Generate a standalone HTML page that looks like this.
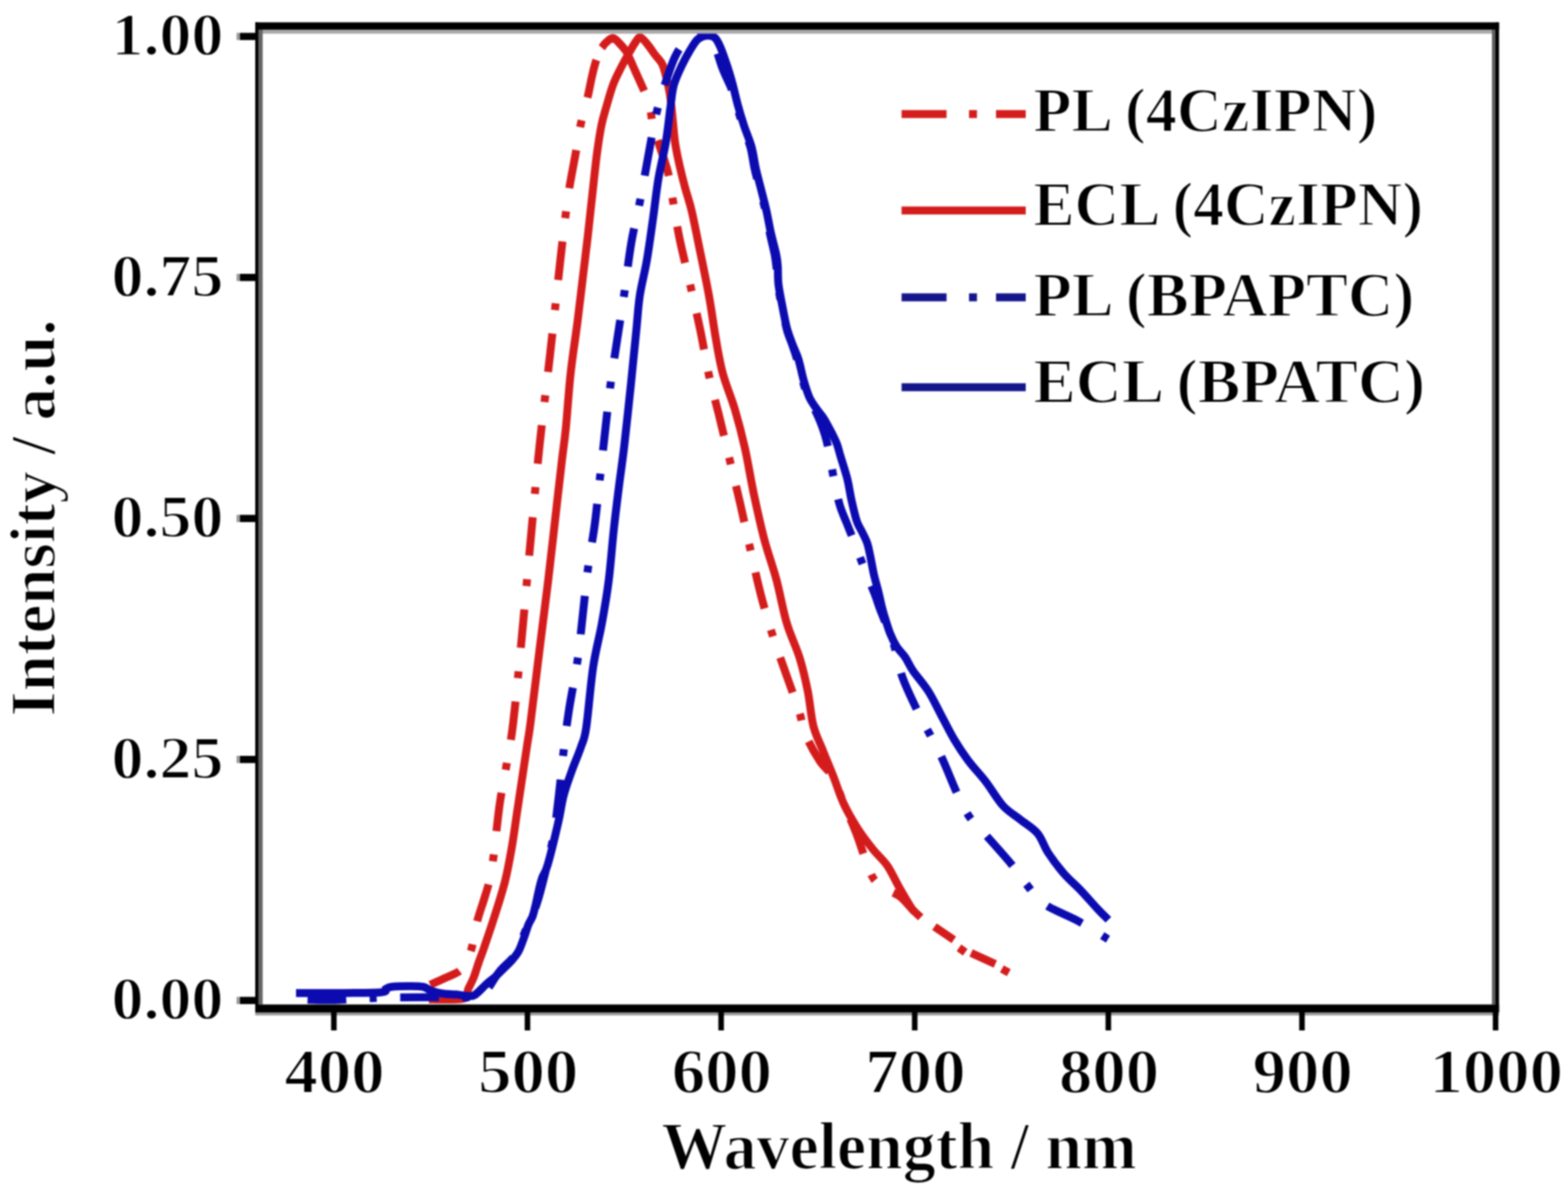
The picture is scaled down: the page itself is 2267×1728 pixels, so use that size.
<!DOCTYPE html><html><head><meta charset="utf-8"><title>Intensity vs Wavelength</title>
<style>html,body{margin:0;padding:0;background:#fff;width:2267px;height:1728px;overflow:hidden}svg{display:block;filter:blur(1.2px)}text{font-family:"Liberation Serif","Times New Roman",serif;font-weight:bold;fill:#000;stroke:#fff;stroke-width:2px}</style></head><body>
<svg width="2267" height="1728" viewBox="0 0 2267 1728">
<rect x="0" y="0" width="2267" height="1728" fill="#fff"/>
<g fill="none" stroke-linejoin="round" stroke-width="11.5">
<path d="M622.0,1424.0 C625.3,1422.5 634.9,1418.2 641.7,1415.0 C648.5,1411.8 657.8,1408.7 663.0,1405.0 C668.2,1401.3 669.9,1398.5 673.0,1393.0 C676.1,1387.5 678.9,1382.2 681.7,1372.0 C684.5,1361.8 687.0,1344.0 690.0,1332.0 C693.0,1320.0 696.9,1310.3 700.0,1300.0 C703.1,1289.7 706.2,1280.8 708.5,1270.0 C710.8,1259.2 711.7,1252.9 714.0,1235.0 C716.3,1217.1 719.4,1184.2 722.5,1162.5 C725.6,1140.8 729.2,1124.6 732.5,1105.0 C735.8,1085.4 738.2,1076.7 742.0,1045.0 C745.8,1013.3 750.8,959.6 755.0,915.0 C759.2,870.4 763.3,822.5 767.5,777.5 C771.7,732.5 775.4,688.8 780.0,645.0 C784.6,601.2 790.0,559.6 795.0,515.0 C800.0,470.4 806.2,411.8 810.0,377.5 C813.8,343.2 815.8,326.5 818.0,309.0 C820.2,291.5 820.5,287.7 823.0,272.5 C825.5,257.3 830.2,233.4 833.0,217.7 C835.8,201.9 837.2,190.9 840.0,178.0 C842.8,165.1 847.0,151.3 849.7,140.0 C852.4,128.7 853.8,119.2 856.0,110.0 C858.2,100.8 859.7,92.9 863.0,84.8 C866.3,76.7 872.2,66.6 876.0,61.6 C879.8,56.6 884.3,56.1 886.0,55.0" stroke="#d41c1c" stroke-dasharray="55.9 33.9 10.0 33.9" stroke-dashoffset="9.2"/>
<path d="M886.0,55.0 C887.5,56.2 891.9,59.0 895.0,62.0 C898.1,65.0 900.7,66.4 904.5,73.0 C908.3,79.6 912.3,88.9 917.8,101.4 C923.3,113.9 933.3,134.4 937.7,148.0 C942.1,161.6 941.4,171.6 944.3,182.8 C947.2,194.0 951.4,203.8 955.0,215.0 C958.6,226.2 963.1,237.9 966.0,250.0 C968.9,262.1 969.8,271.7 972.5,287.5 C975.2,303.3 978.3,324.6 982.5,345.0 C986.7,365.4 992.5,387.9 997.5,410.0 C1002.5,432.1 1007.9,455.4 1012.5,477.5 C1017.1,499.6 1020.4,521.7 1025.0,542.5 C1029.6,563.3 1035.0,582.1 1040.0,602.5 C1045.0,622.9 1050.0,644.2 1055.0,665.0 C1060.0,685.8 1065.0,705.8 1070.0,727.5 C1075.0,749.2 1080.0,772.9 1085.0,795.0 C1090.0,817.1 1094.6,839.2 1100.0,860.0 C1105.4,880.8 1111.2,900.4 1117.5,920.0 C1123.8,939.6 1131.2,959.6 1137.5,977.5 C1143.8,995.4 1150.4,1013.2 1155.0,1027.5 C1159.6,1041.8 1160.0,1050.9 1165.0,1063.0 C1170.0,1075.1 1178.3,1089.7 1185.0,1100.0 C1191.7,1110.3 1199.2,1114.6 1205.0,1125.0 C1210.8,1135.4 1214.5,1149.2 1220.0,1162.5 C1225.5,1175.8 1232.7,1191.2 1238.0,1205.0 C1243.3,1218.8 1247.7,1233.8 1252.0,1245.0 C1256.3,1256.2 1258.7,1265.0 1264.0,1272.0 C1269.3,1279.0 1277.7,1282.8 1284.0,1287.0 C1290.3,1291.2 1296.0,1292.2 1302.0,1297.0 C1308.0,1301.8 1314.5,1310.5 1320.0,1316.0 C1325.5,1321.5 1332.5,1327.7 1335.0,1330.0" stroke="#d41c1c" stroke-dasharray="53.6 32.3 10.0 32.3" stroke-dashoffset="91.6"/>
<path d="M870.0,69.0 C871.0,67.8 873.3,63.9 876.0,61.6 C878.7,59.3 882.8,54.9 886.0,55.0 C889.2,55.1 891.9,59.0 895.0,62.0 C898.1,65.0 902.2,70.0 904.5,73.0 C906.8,76.0 908.2,78.8 909.0,80.0" stroke="#d41c1c"/>
<path d="M1351,1340 L1379,1359 M1386.5,1370.5 L1395.5,1377 M1404,1378 L1439,1394 M1448.5,1401 L1458.5,1406.5" stroke="#d41c1c"/>
<path d="M620.0,1445.0 C628.3,1444.8 660.5,1446.5 670.0,1444.0 C679.5,1441.5 674.5,1435.2 677.0,1430.0 C679.5,1424.8 682.5,1419.3 685.0,1413.0 C687.5,1406.7 689.5,1399.2 692.0,1392.0 C694.5,1384.8 696.2,1381.2 700.0,1370.0 C703.8,1358.8 710.0,1340.8 715.0,1325.0 C720.0,1309.2 725.8,1291.7 730.0,1275.0 C734.2,1258.3 737.1,1241.7 740.0,1225.0 C742.9,1208.3 745.0,1191.7 747.5,1175.0 C750.0,1158.3 752.5,1141.7 755.0,1125.0 C757.5,1108.3 760.5,1088.3 762.5,1075.0 C764.5,1061.7 764.1,1067.5 767.0,1045.0 C769.9,1022.5 775.8,974.2 780.0,940.0 C784.2,905.8 788.8,871.2 792.5,840.0 C796.2,808.8 799.2,781.7 802.5,752.5 C805.8,723.3 809.9,687.1 812.5,665.0 C815.1,642.9 815.9,640.8 818.0,620.0 C820.1,599.2 822.2,565.8 825.0,540.0 C827.8,514.2 832.1,487.9 835.0,465.0 C837.9,442.1 840.0,423.3 842.5,402.5 C845.0,381.7 847.8,359.6 850.0,340.0 C852.2,320.4 853.8,304.6 856.0,285.0 C858.2,265.4 860.7,240.0 863.0,222.7 C865.3,205.4 867.4,192.1 869.6,181.0 C871.8,169.9 873.4,165.7 876.2,156.0 C879.0,146.3 882.6,132.7 886.2,123.0 C889.8,113.3 893.9,105.8 897.8,98.0 C901.7,90.2 905.9,82.8 909.5,76.5 C913.1,70.2 916.6,63.8 919.4,60.0 C922.1,56.2 923.2,53.3 926.0,54.0 C928.8,54.7 932.4,59.7 936.0,64.0 C939.6,68.3 944.0,75.1 947.6,79.9 C951.2,84.7 954.9,87.2 957.6,93.0 C960.3,98.8 962.1,106.9 964.0,114.7 C965.9,122.5 967.6,129.9 969.0,139.6 C970.4,149.3 971.4,161.7 972.6,172.8 C973.8,183.9 974.4,194.9 976.0,206.0 C977.6,217.1 980.0,228.2 982.5,239.3 C985.0,250.4 987.9,261.6 990.8,272.5 C993.7,283.4 996.4,289.6 1000.0,305.0 C1003.6,320.4 1008.3,344.6 1012.5,365.0 C1016.7,385.4 1021.2,406.7 1025.0,427.5 C1028.8,448.3 1031.7,471.2 1035.0,490.0 C1038.3,508.8 1040.4,523.0 1045.0,540.0 C1049.6,557.0 1057.2,574.0 1062.5,592.0 C1067.8,610.0 1072.4,627.5 1077.0,648.0 C1081.6,668.5 1085.3,693.0 1090.0,715.0 C1094.7,737.0 1099.6,759.5 1105.0,780.0 C1110.4,800.5 1117.1,817.8 1122.5,838.0 C1127.9,858.2 1131.9,882.2 1137.5,901.0 C1143.1,919.8 1150.9,934.5 1156.0,951.0 C1161.1,967.5 1164.7,983.5 1168.0,1000.0 C1171.3,1016.5 1172.3,1035.7 1176.0,1050.0 C1179.7,1064.3 1185.2,1073.8 1190.0,1086.0 C1194.8,1098.2 1200.0,1110.2 1205.0,1123.0 C1210.0,1135.8 1214.2,1150.0 1220.0,1162.5 C1225.8,1175.0 1233.0,1187.1 1240.0,1198.0 C1247.0,1208.9 1254.8,1219.0 1262.0,1228.0 C1269.2,1237.0 1276.7,1242.8 1283.0,1252.0 C1289.3,1261.2 1294.2,1272.9 1300.0,1283.0 C1305.8,1293.1 1313.8,1306.7 1317.5,1312.5 C1321.2,1318.3 1321.2,1317.1 1322.0,1318.0" stroke="#d41c1c"/>
<path d="M428.0,1445.0 C436.7,1445.2 460.5,1446.3 480.0,1446.0 C499.5,1445.7 521.7,1443.7 545.0,1443.0 C568.3,1442.3 597.5,1442.2 620.0,1442.0 C642.5,1441.8 666.7,1443.0 680.0,1442.0 C693.3,1441.0 693.0,1442.2 700.0,1436.0 C707.0,1429.8 714.5,1414.3 722.0,1405.0 C729.5,1395.7 738.7,1390.0 745.0,1380.0 C751.3,1370.0 755.0,1356.7 760.0,1345.0 C765.0,1333.3 770.8,1321.7 775.0,1310.0 C779.2,1298.3 780.8,1291.7 785.0,1275.0 C789.2,1258.3 796.2,1230.8 800.0,1210.0 C803.8,1189.2 805.5,1170.8 808.0,1150.0 C810.5,1129.2 812.6,1105.4 815.0,1085.0 C817.4,1064.6 819.2,1049.2 822.5,1027.5 C825.8,1005.8 831.7,977.9 835.0,955.0 C838.3,932.1 840.0,912.1 842.5,890.0 C845.0,867.9 847.1,844.6 850.0,822.5 C852.9,800.4 857.1,779.6 860.0,757.5 C862.9,735.4 865.4,708.8 867.5,690.0 C869.6,671.2 870.0,667.1 872.5,645.0 C875.0,622.9 879.2,583.3 882.5,557.5 C885.8,531.7 889.2,512.1 892.5,490.0 C895.8,467.9 899.2,447.9 902.5,425.0 C905.8,402.1 908.8,374.6 912.5,352.5 C916.2,330.4 920.9,313.4 925.0,292.5 C929.1,271.6 933.0,248.6 937.0,227.0 C941.0,205.4 945.1,180.8 949.3,163.0 C953.5,145.2 957.5,133.5 962.0,120.0 C966.5,106.5 971.3,91.7 976.0,82.0 C980.7,72.3 984.5,66.7 990.0,62.0 C995.5,57.3 1003.7,55.7 1009.0,54.0 C1014.3,52.3 1018.2,50.7 1022.0,52.0 C1025.8,53.3 1028.2,54.0 1032.0,62.0 C1035.8,70.0 1040.8,89.2 1045.0,100.0 C1049.2,110.8 1053.7,118.3 1057.0,127.0 C1060.3,135.7 1062.2,142.8 1065.0,152.0 C1067.8,161.2 1070.7,171.8 1074.0,182.0 C1077.3,192.2 1082.2,202.7 1085.0,213.0 C1087.8,223.3 1088.7,233.7 1091.0,244.0 C1093.3,254.3 1096.3,264.7 1099.0,275.0 C1101.7,285.3 1104.7,295.7 1107.0,306.0 C1109.3,316.3 1110.8,326.7 1113.0,337.0 C1115.2,347.3 1118.3,359.2 1120.0,368.0 C1121.7,376.8 1122.0,381.3 1123.0,390.0 C1124.0,398.7 1124.5,410.0 1126.0,420.0 C1127.5,430.0 1130.0,440.3 1132.0,450.0 C1134.0,459.7 1135.7,469.7 1138.0,478.0 C1140.3,486.3 1143.3,492.2 1146.0,500.0 C1148.7,507.8 1151.5,516.3 1154.0,525.0 C1156.5,533.7 1158.5,543.5 1161.0,552.0 C1163.5,560.5 1166.2,569.3 1169.0,576.0 C1171.8,582.7 1175.2,586.3 1178.0,592.0 C1180.8,597.7 1183.5,603.7 1186.0,610.0 C1188.5,616.3 1190.8,622.5 1193.0,630.0 C1195.2,637.5 1196.9,644.7 1199.0,655.0 C1201.1,665.3 1203.0,679.5 1205.5,692.0 C1208.0,704.5 1210.9,719.3 1214.0,730.0 C1217.1,740.7 1220.7,747.5 1224.0,756.0 C1227.3,764.5 1230.2,771.3 1234.0,781.0 C1237.8,790.7 1242.8,804.5 1246.5,814.0 C1250.2,823.5 1252.9,830.3 1256.0,838.0 C1259.1,845.7 1262.3,853.0 1265.0,860.0 C1267.7,867.0 1269.5,873.3 1272.0,880.0 C1274.5,886.7 1277.0,892.5 1280.0,900.0 C1283.0,907.5 1287.3,917.5 1290.0,925.0 C1292.7,932.5 1293.5,935.8 1296.0,945.0 C1298.5,954.2 1299.8,965.8 1305.0,980.0 C1310.2,994.2 1320.8,1016.2 1327.5,1030.0 C1334.2,1043.8 1339.2,1051.8 1345.0,1063.0 C1350.8,1074.2 1355.8,1083.0 1362.5,1097.5 C1369.2,1112.0 1378.3,1135.8 1385.0,1150.0 C1391.7,1164.2 1395.4,1172.5 1402.5,1182.5 C1409.6,1192.5 1417.5,1198.8 1427.5,1210.0 C1437.5,1221.2 1452.9,1238.3 1462.5,1250.0 C1472.1,1261.7 1477.1,1270.4 1485.0,1280.0 C1492.9,1289.6 1497.5,1298.8 1510.0,1307.5 C1522.5,1316.2 1544.7,1324.1 1560.0,1332.5 C1575.3,1340.9 1595.0,1353.8 1602.0,1358.0" stroke="#0b0bb0" stroke-dasharray="56.0 34.0 10.0 34.0" stroke-dashoffset="117.3"/>
<path d="M428.0,1436.0 C436.7,1436.0 459.7,1436.2 480.0,1436.0 C500.3,1435.8 537.0,1436.0 550.0,1435.0 C563.0,1434.0 555.3,1431.3 558.0,1430.0 C560.7,1428.7 560.7,1427.7 566.0,1427.0 C571.3,1426.3 582.3,1426.0 590.0,1426.0 C597.7,1426.0 606.3,1425.8 612.0,1427.0 C617.7,1428.2 619.0,1431.3 624.0,1433.0 C629.0,1434.7 636.0,1436.2 642.0,1437.0 C648.0,1437.8 654.7,1437.5 660.0,1438.0 C665.3,1438.5 669.7,1439.8 674.0,1440.0 C678.3,1440.2 681.0,1441.9 686.0,1439.0 C691.0,1436.1 698.8,1426.9 703.8,1422.5 C708.8,1418.1 711.8,1416.2 716.0,1412.5 C720.2,1408.8 724.6,1404.2 728.8,1400.0 C732.9,1395.8 737.5,1391.7 741.0,1387.5 C744.5,1383.3 747.2,1380.2 750.0,1375.0 C752.8,1369.8 755.2,1362.2 757.5,1356.0 C759.8,1349.8 761.7,1342.7 763.8,1337.5 C765.8,1332.3 768.1,1330.2 770.0,1325.0 C771.9,1319.8 773.5,1312.2 775.0,1306.0 C776.5,1299.8 777.5,1293.7 779.0,1287.5 C780.5,1281.3 781.8,1275.2 784.0,1269.0 C786.2,1262.8 788.1,1263.6 792.0,1250.0 C795.9,1236.4 803.7,1204.2 807.5,1187.5 C811.3,1170.8 811.7,1162.5 815.0,1150.0 C818.3,1137.5 823.3,1124.2 827.5,1112.5 C831.7,1100.8 836.7,1090.0 840.0,1080.0 C843.3,1070.0 844.6,1071.7 847.5,1052.5 C850.4,1033.3 853.8,990.0 857.5,965.0 C861.2,940.0 866.2,923.3 870.0,902.5 C873.8,881.7 877.1,862.9 880.0,840.0 C882.9,817.1 885.0,787.9 887.5,765.0 C890.0,742.1 892.5,722.5 895.0,702.5 C897.5,682.5 899.6,670.0 902.5,645.0 C905.4,620.0 909.6,580.4 912.5,552.5 C915.4,524.6 917.9,498.3 920.0,477.5 C922.1,456.7 922.5,444.2 925.0,427.5 C927.5,410.8 931.8,395.9 935.0,377.5 C938.2,359.1 941.2,336.9 944.0,317.0 C946.8,297.1 948.9,276.5 952.0,258.0 C955.1,239.5 959.7,223.0 962.6,206.0 C965.5,189.0 967.3,169.8 969.2,156.0 C971.1,142.2 971.4,133.2 974.2,123.0 C977.0,112.8 981.9,103.1 985.8,94.8 C989.7,86.5 993.6,79.4 997.5,73.0 C1001.4,66.6 1004.9,60.2 1009.0,56.6 C1013.1,53.0 1018.2,51.9 1022.4,51.6 C1026.6,51.3 1030.7,51.9 1034.0,55.0 C1037.3,58.1 1039.2,62.8 1042.3,70.0 C1045.3,77.2 1049.5,89.7 1052.3,98.0 C1055.0,106.3 1056.4,111.2 1058.8,120.0 C1061.2,128.8 1063.7,140.7 1066.5,151.0 C1069.3,161.3 1072.4,171.7 1075.8,182.0 C1079.2,192.3 1083.9,202.5 1086.7,212.8 C1089.5,223.1 1090.5,233.5 1092.8,243.8 C1095.1,254.1 1098.0,264.4 1100.6,274.7 C1103.2,285.0 1106.0,295.4 1108.3,305.7 C1110.6,316.0 1112.2,326.3 1114.5,336.6 C1116.8,346.9 1120.5,359.5 1122.2,367.6 C1123.9,375.7 1124.0,377.8 1124.5,385.0 C1125.0,392.2 1124.4,401.5 1125.5,411.0 C1126.6,420.5 1129.0,431.7 1131.0,442.0 C1133.0,452.3 1135.0,463.8 1137.3,472.8 C1139.6,481.8 1142.2,488.2 1145.0,496.0 C1147.8,503.8 1151.5,510.3 1154.3,519.3 C1157.1,528.3 1159.4,541.2 1162.0,550.2 C1164.6,559.2 1166.9,566.9 1169.7,573.4 C1172.5,579.9 1175.5,583.7 1179.0,589.0 C1182.5,594.3 1187.0,598.7 1191.0,605.0 C1195.0,611.3 1199.8,620.8 1203.0,627.0 C1206.2,633.2 1207.9,636.3 1210.0,642.0 C1212.1,647.7 1213.1,652.7 1215.6,661.0 C1218.1,669.3 1222.3,681.6 1224.9,691.9 C1227.5,702.2 1228.7,712.5 1231.0,722.8 C1233.3,733.1 1236.2,746.0 1238.8,753.8 C1241.4,761.5 1244.0,763.9 1246.5,769.3 C1249.0,774.7 1251.9,779.5 1254.0,786.0 C1256.1,792.5 1257.4,800.5 1259.0,808.0 C1260.6,815.5 1261.8,823.5 1263.6,831.2 C1265.4,838.9 1267.8,846.7 1269.7,854.4 C1271.6,862.1 1273.4,871.1 1275.0,877.6 C1276.6,884.1 1277.4,886.7 1279.4,893.2 C1281.4,899.7 1284.3,909.4 1287.1,916.4 C1289.9,923.4 1292.8,929.3 1296.4,935.0 C1300.0,940.7 1304.9,944.7 1308.8,950.5 C1312.7,956.3 1314.4,961.8 1320.0,970.0 C1325.6,978.2 1335.4,988.8 1342.5,1000.0 C1349.6,1011.2 1356.2,1025.8 1362.5,1037.5 C1368.8,1049.2 1373.8,1059.6 1380.0,1070.0 C1386.2,1080.4 1392.5,1090.0 1400.0,1100.0 C1407.5,1110.0 1416.7,1119.2 1425.0,1130.0 C1433.3,1140.8 1441.7,1155.8 1450.0,1165.0 C1458.3,1174.2 1466.7,1178.3 1475.0,1185.0 C1483.3,1191.7 1493.3,1197.1 1500.0,1205.0 C1506.7,1212.9 1508.8,1222.9 1515.0,1232.5 C1521.2,1242.1 1529.6,1253.3 1537.5,1262.5 C1545.4,1271.7 1554.2,1278.8 1562.5,1287.5 C1570.8,1296.2 1580.8,1307.9 1587.5,1315.0 C1594.2,1322.1 1600.0,1327.5 1602.5,1330.0" stroke="#0b0bb0"/>
</g>
<g>
<rect x="374" y="42.9" width="1783" height="5.8" fill="#aaa"/>
<rect x="373.8" y="42.9" width="6" height="1409.6" fill="#666"/>
<rect x="2157" y="42.9" width="5" height="1409.6" fill="#606060"/>
<rect x="369" y="1463" width="1798.3" height="5.3" fill="#999"/>
<rect x="369" y="32.3" width="1798.3" height="10.6" fill="#000"/>
<rect x="369" y="32.3" width="4.8" height="1430.7" fill="#000"/>
<rect x="2162" y="32.3" width="5.3" height="1430.7" fill="#000"/>
<rect x="369" y="1452.5" width="1798.3" height="11.5" fill="#000"/>
<rect x="342" y="1441.5" width="5" height="10.4" fill="#9a9a9a"/>
<rect x="347" y="1441.5" width="22" height="10.4" fill="#000"/>
<rect x="342" y="1093.0" width="5" height="10.4" fill="#9a9a9a"/>
<rect x="347" y="1093.0" width="22" height="10.4" fill="#000"/>
<rect x="342" y="744.5" width="5" height="10.4" fill="#9a9a9a"/>
<rect x="347" y="744.5" width="22" height="10.4" fill="#000"/>
<rect x="342" y="396.0" width="5" height="10.4" fill="#9a9a9a"/>
<rect x="347" y="396.0" width="22" height="10.4" fill="#000"/>
<rect x="342" y="47.5" width="5" height="10.4" fill="#9a9a9a"/>
<rect x="347" y="47.5" width="22" height="10.4" fill="#000"/>
<rect x="478.7" y="1463" width="8" height="27" fill="#000"/>
<rect x="758.6" y="1463" width="8" height="27" fill="#000"/>
<rect x="1038.6" y="1463" width="8" height="27" fill="#000"/>
<rect x="1318.5" y="1463" width="8" height="27" fill="#000"/>
<rect x="1598.4" y="1463" width="8" height="27" fill="#000"/>
<rect x="1878.4" y="1463" width="8" height="27" fill="#000"/>
<rect x="2158.3" y="1463" width="8" height="27" fill="#000"/>
</g>
<text transform="translate(323,79.0) scale(1.075,1)" font-size="86" text-anchor="end">1.00</text>
<text transform="translate(323,427.5) scale(1.075,1)" font-size="86" text-anchor="end">0.75</text>
<text transform="translate(323,776.0) scale(1.075,1)" font-size="86" text-anchor="end">0.50</text>
<text transform="translate(323,1124.5) scale(1.075,1)" font-size="86" text-anchor="end">0.25</text>
<text transform="translate(323,1473.0) scale(1.075,1)" font-size="86" text-anchor="end">0.00</text>
<text transform="translate(483.7,1580) scale(1.05,1)" font-size="92" text-anchor="middle">400</text>
<text transform="translate(763.6,1580) scale(1.05,1)" font-size="92" text-anchor="middle">500</text>
<text transform="translate(1043.6,1580) scale(1.05,1)" font-size="92" text-anchor="middle">600</text>
<text transform="translate(1323.5,1580) scale(1.05,1)" font-size="92" text-anchor="middle">700</text>
<text transform="translate(1603.4,1580) scale(1.05,1)" font-size="92" text-anchor="middle">800</text>
<text transform="translate(1883.4,1580) scale(1.05,1)" font-size="92" text-anchor="middle">900</text>
<text transform="translate(2163.3,1580) scale(1.05,1)" font-size="92" text-anchor="middle">1000</text>
<text transform="translate(1300,1690) scale(0.981,1)" font-size="97" text-anchor="middle">Wavelength / nm</text>
<text transform="translate(79,749) rotate(-90)" font-size="94" text-anchor="middle">Intensity / a.u.</text>
<rect x="1303.5" y="159.2" width="65" height="11.5" fill="#d41c1c"/>
<rect x="1401" y="159.2" width="11.5" height="11.5" fill="#d41c1c"/>
<rect x="1440" y="159.2" width="43" height="11.5" fill="#d41c1c"/>
<text transform="translate(1494,189.8) scale(1.000,1)" font-size="90">PL (4CzIPN)</text>
<rect x="1303.5" y="298.6" width="179.5" height="11.5" fill="#d41c1c"/>
<text transform="translate(1494,326.0) scale(0.993,1)" font-size="90">ECL (4CzIPN)</text>
<rect x="1303.5" y="424.2" width="65" height="11.5" fill="#15158c"/>
<rect x="1401" y="424.2" width="11.5" height="11.5" fill="#15158c"/>
<rect x="1440" y="424.2" width="43" height="11.5" fill="#15158c"/>
<text transform="translate(1494,456.6) scale(1.009,1)" font-size="90">PL (BPAPTC)</text>
<rect x="1303.5" y="554.2" width="179.5" height="11.5" fill="#15158c"/>
<text transform="translate(1494,581.8) scale(1.022,1)" font-size="90">ECL (BPATC)</text>
</svg></body></html>
